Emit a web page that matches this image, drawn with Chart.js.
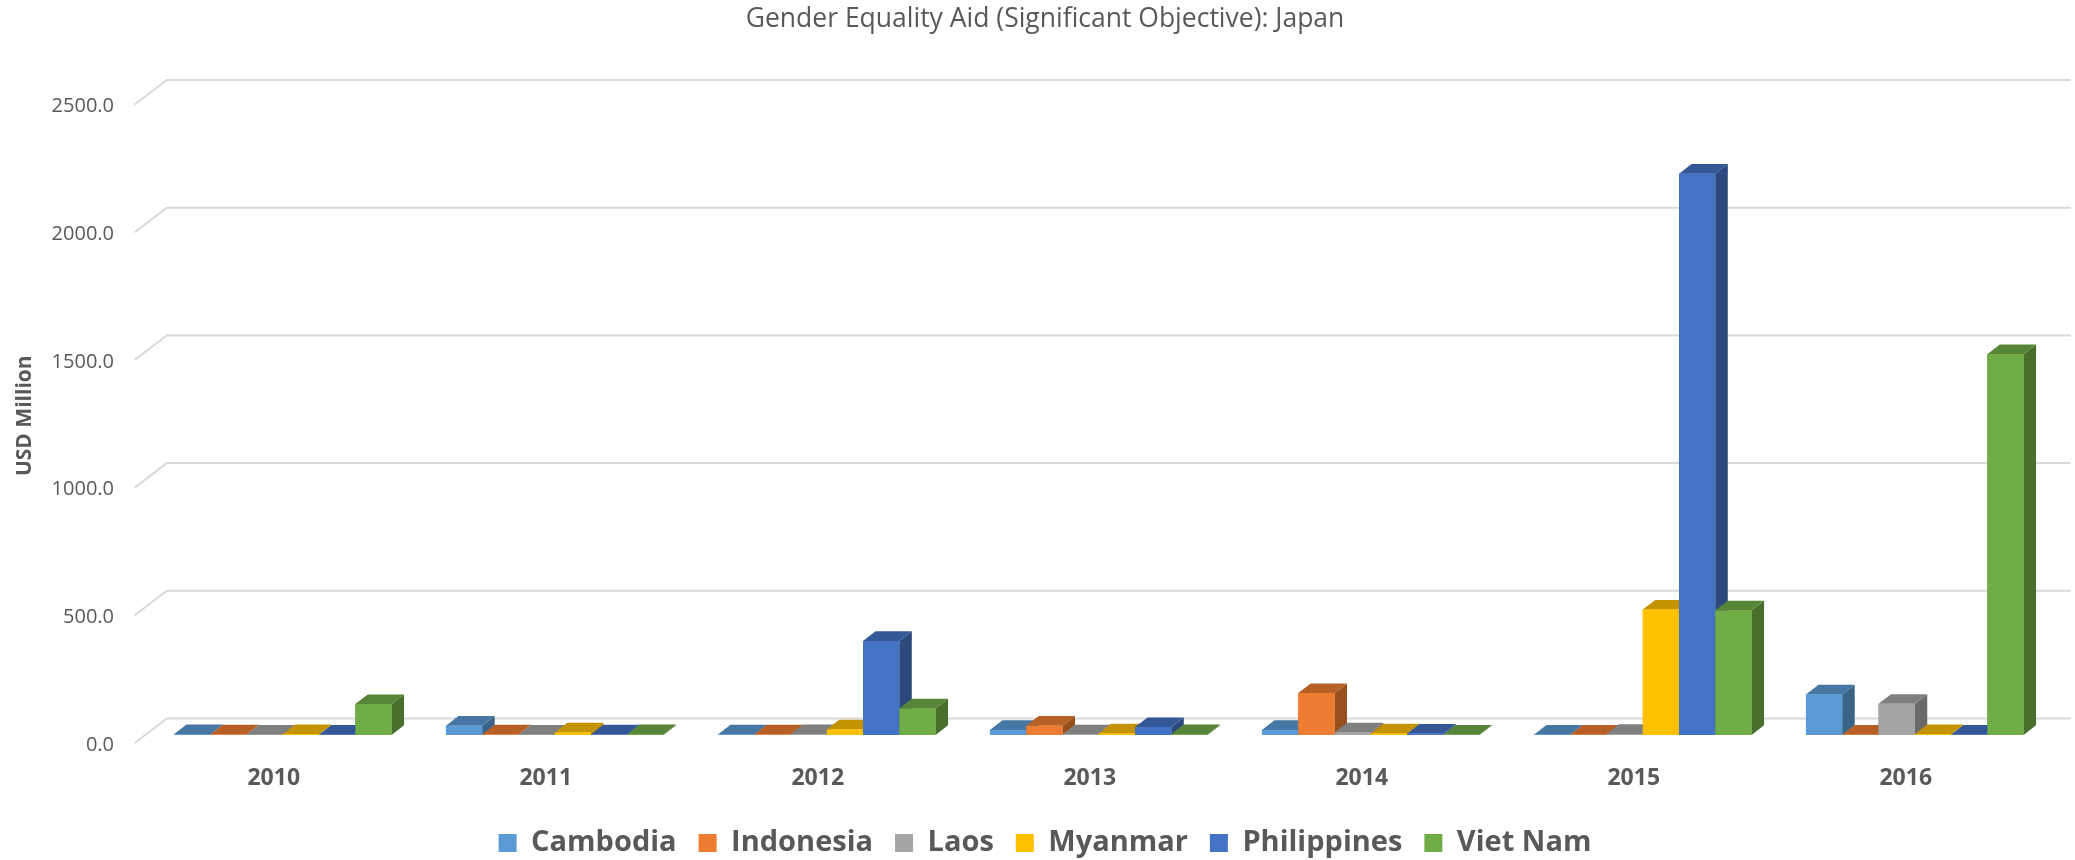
<!DOCTYPE html>
<html>
<head>
<meta charset="utf-8">
<script src="https://cdn.jsdelivr.net/npm/chart.js@4.4.1/dist/chart.umd.min.js"></script>
<style>
  html, body { margin: 0; padding: 0; background: #ffffff; }
  #wrap { width: 2075px; height: 860px; position: relative; }
</style>
</head>
<body>
<div id="wrap"><canvas id="c" width="2075" height="860"></canvas></div>
<script>
// ---- data ----
const years = ['2010', '2011', '2012', '2013', '2014', '2015', '2016'];
const seriesNames = ['Cambodia', 'Indonesia', 'Laos', 'Myanmar', 'Philippines', 'Viet Nam'];
const cambodia    = [3, 36, 2, 20, 20, 1, 159];
const indonesia   = [2, 2, 2, 36, 164, 1, 1];
const laos        = [1, 1, 3, 2, 10, 4, 122];
const myanmar     = [3, 10, 22, 6, 6, 491, 3];
const philippines = [1, 2, 368, 31, 5, 2198, 1];
const vietNam     = [121, 3, 104, 3, 1, 488, 1491];
const yTickValues = [0, 500, 1000, 1500, 2000, 2500];

const seriesValues = [cambodia, indonesia, laos, myanmar, philippines, vietNam];
const seriesColors = ['#5B9BD5', '#ED7D31', '#A5A5A5', '#FFC000', '#4472C4', '#70AD47'];

function shade(hex, f) {
  const n = parseInt(hex.slice(1), 16);
  const r = Math.round(((n >> 16) & 255) * f);
  const g = Math.round(((n >> 8) & 255) * f);
  const b = Math.round((n & 255) * f);
  return 'rgb(' + r + ',' + g + ',' + b + ')';
}

const TEXT = '#595959';
const FONT = "'Open Sans', 'Noto Sans', sans-serif";
const DEPTH_X = 12.5, DEPTH_Y = 9.7;      // bar depth
const WALL_X = 32, WALL_Y = 24.5;          // back wall depth
const WALL_SHIFT = 16.5;                   // back wall vs bar front

const backWall = {
  id: 'backWall',
  beforeDatasetsDraw(chart) {
    const ctx = chart.ctx, ys = chart.scales.y, area = chart.chartArea;
    ctx.save();
    ctx.strokeStyle = '#d9d9d9';
    ctx.lineWidth = 2;
    ys.ticks.forEach(t => {
      const yb = ys.getPixelForValue(t.value) - WALL_SHIFT;
      const xFront = area.left - 12;
      ctx.beginPath();
      ctx.moveTo(xFront, yb + WALL_Y);
      ctx.lineTo(xFront + WALL_X, yb);
      ctx.lineTo(area.right + 20, yb);
      ctx.stroke();
    });
    ctx.restore();
  }
};

const bars3d = {
  id: 'bars3d',
  afterDatasetsDraw(chart) {
    const ctx = chart.ctx;
    ctx.save();
    chart.data.datasets.forEach((ds, i) => {
      const meta = chart.getDatasetMeta(i);
      const base = seriesColors[i];
      meta.data.forEach(el => {
        const p = el.getProps(['x', 'y', 'base', 'width'], true);
        const l = p.x - p.width / 2, r = p.x + p.width / 2;
        const top = Math.min(p.y, p.base), bot = Math.max(p.y, p.base);
        // side face
        ctx.fillStyle = shade(base, 0.64);
        ctx.beginPath();
        ctx.moveTo(r, top);
        ctx.lineTo(r + DEPTH_X, top - DEPTH_Y);
        ctx.lineTo(r + DEPTH_X, bot - DEPTH_Y);
        ctx.lineTo(r, bot);
        ctx.closePath();
        ctx.fill();
        // top face
        ctx.fillStyle = shade(base, 0.77);
        ctx.beginPath();
        ctx.moveTo(l, top);
        ctx.lineTo(l + DEPTH_X, top - DEPTH_Y);
        ctx.lineTo(r + DEPTH_X, top - DEPTH_Y);
        ctx.lineTo(r, top);
        ctx.closePath();
        ctx.fill();
        // front face
        ctx.fillStyle = base;
        ctx.fillRect(l, top, r - l, bot - top);
      });
    });
    ctx.restore();
  }
};

new Chart(document.getElementById('c'), {
  type: 'bar',
  data: {
    labels: years,
    datasets: seriesNames.map((name, i) => ({
      label: name,
      data: seriesValues[i],
      backgroundColor: seriesColors[i],
      borderWidth: 0,
      categoryPercentage: 0.8,
      barPercentage: 1.0
    }))
  },
  options: {
    responsive: false,
    animation: false,
    devicePixelRatio: 1,
    layout: { padding: { left: 39.25, right: 24.25, top: 0, bottom: -7.5 } },
    plugins: {
      title: {
        display: true,
        text: 'Gender Equality Aid (Significant Objective): Japan',
        color: TEXT,
        font: { family: FONT, size: 26.5, weight: 'normal', lineHeight: 1.2 },
        padding: { top: 3.1, bottom: 61.6 }
      },
      legend: {
        position: 'bottom',
        labels: {
          color: TEXT,
          font: { family: FONT, size: 29, weight: 'bold' },
          boxWidth: 18,
          boxHeight: 18,
          padding: 22
        }
      },
      tooltip: { enabled: false }
    },
    scales: {
      x: {
        grid: { display: false, drawTicks: false },
        border: { display: false },
        ticks: {
          color: TEXT,
          font: { family: FONT, size: 23, weight: 'bold' },
          padding: 30,
          labelOffset: -9,
          maxRotation: 0
        },
        afterFit(s) { s.height = 71.5; }
      },
      y: {
        min: 0,
        max: 2500,
        afterBuildTicks(s) { s.ticks = yTickValues.map(v => ({ value: v })); },
        grid: { display: false, drawTicks: false },
        border: { display: false },
        ticks: {
          color: TEXT,
          font: { family: FONT, size: 20 },
          padding: 32.75,
          labelOffset: 10,
          callback: v => Number(v).toFixed(1)
        },
        title: {
          display: true,
          text: 'USD Million',
          color: TEXT,
          font: { family: FONT, size: 21, weight: 'bold', lineHeight: 1.2 },
          padding: { top: -26.35, bottom: 0 }
        },
        afterFit(s) { s.width = 107.5; }
      }
    }
  },
  plugins: [backWall, bars3d]
});
</script>
</body>
</html>
